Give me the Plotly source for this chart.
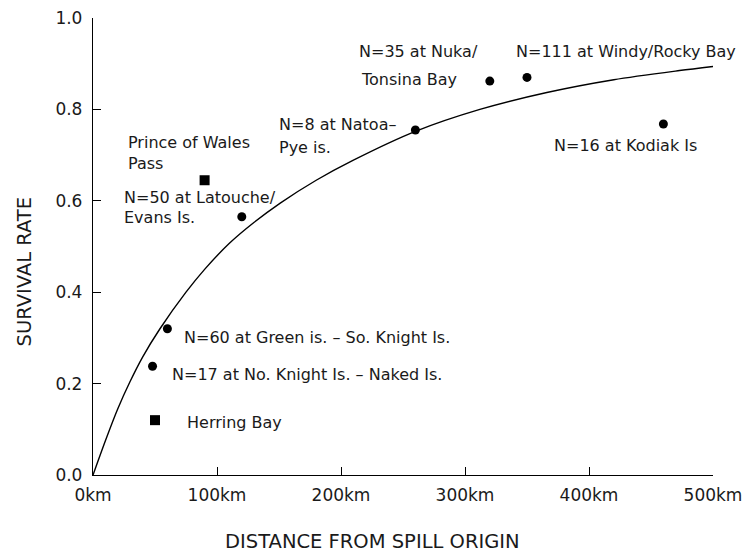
import plotly.graph_objects as go

# Observed sites (distance km, survival rate)
circle_x = [48, 60, 120, 260, 320, 350, 460]
circle_y = [0.238, 0.32, 0.565, 0.755, 0.862, 0.870, 0.768]
square_x = [50, 90]
square_y = [0.12, 0.645]

# Fitted curve
curve_x = [0, 10, 20, 30, 40, 54, 75, 90, 110, 130, 151, 180, 210, 260, 312, 366, 420, 473, 500]
curve_y = [0.0, 0.075, 0.145, 0.205, 0.258, 0.32, 0.40, 0.45, 0.507, 0.553, 0.595, 0.645,
           0.689, 0.752, 0.80, 0.837, 0.865, 0.885, 0.894]

# Labels
label_text = [
    "Prince of Wales", "Pass",
    "N=50 at Latouche/", "Evans Is.",
    "N=8 at Natoa\u2013", "Pye is.",
    "N=35 at Nuka/", "Tonsina Bay",
    "N=111 at Windy/Rocky Bay",
    "N=16 at Kodiak Is",
    "N=60 at Green is. \u2013 So. Knight Is.",
    "N=17 at No. Knight Is. \u2013 Naked Is.",
    "Herring Bay",
]
label_x = [26.6, 26.6, 23.4, 23.4, 148.4, 148.4, 213, 214.5, 339.5, 370, 71.5, 62, 74.2]
label_y = [0.728, 0.681, 0.607, 0.563, 0.767, 0.716, 0.926, 0.865, 0.926, 0.721, 0.301, 0.219, 0.115]

x_ticks = [0, 100, 200, 300, 400, 500]
y_ticks = [0.0, 0.2, 0.4, 0.6, 0.8, 1.0]

x_title = "DISTANCE FROM SPILL ORIGIN"
y_title = "SURVIVAL RATE"

FONT = "DejaVu Sans"
TXT = "#1a1a1a"

fig = go.Figure()
fig.add_trace(go.Scatter(x=curve_x, y=curve_y, mode="lines",
                         line=dict(color="black", width=1.4, shape="spline", smoothing=0.8),
                         hoverinfo="skip", showlegend=False))
fig.add_trace(go.Scatter(x=circle_x, y=circle_y, mode="markers",
                         marker=dict(symbol="circle", size=9, color="black"),
                         showlegend=False))
fig.add_trace(go.Scatter(x=square_x, y=square_y, mode="markers",
                         marker=dict(symbol="square", size=10, color="black"),
                         showlegend=False))

annotations = []
for t, x, y in zip(label_text, label_x, label_y):
    annotations.append(dict(x=x, y=y, xref="x", yref="y", text=t, showarrow=False,
                            xanchor="left", yanchor="middle",
                            font=dict(family=FONT, size=16, color=TXT)))
# axis titles placed as in the reference
annotations.append(dict(x=372, y=541, xref="paper", yref="paper", text=x_title,
                        showarrow=False, xanchor="center", yanchor="middle",
                        font=dict(family=FONT, size=19.5, color=TXT)))
annotations.append(dict(x=23.5, y=272, xref="paper", yref="paper", text=y_title,
                        showarrow=False, xanchor="center", yanchor="middle", textangle=-90,
                        font=dict(family=FONT, size=19.5, color=TXT)))

# convert the two title positions from pixels to paper fractions
L, R, T, B = 93, 31, 18, 77
W, H = 744, 552
pw, ph = W - L - R, H - T - B
for a in annotations[-2:]:
    a["x"] = (a["x"] - L) / pw
    a["y"] = (H - B - a["y"]) / ph

fig.update_layout(
    width=W, height=H,
    margin=dict(l=L, r=R, t=T, b=B, autoexpand=False),
    paper_bgcolor="white", plot_bgcolor="white",
    font=dict(family=FONT, color=TXT),
    annotations=annotations,
    showlegend=False,
)
fig.update_xaxes(range=[0, 500], tickvals=x_ticks, ticktext=[f"{v}km" for v in x_ticks],
                 showline=True, linecolor="black", linewidth=1.3, mirror=False,
                 ticks="inside", ticklen=8, tickwidth=1.3, tickcolor="black",
                 showgrid=False, zeroline=False, automargin=False, ticklabelstandoff=4,
                 tickfont=dict(family=FONT, size=17, color=TXT))
fig.update_yaxes(range=[0, 1.0], tickvals=y_ticks, ticktext=[f"{v:.1f}" for v in y_ticks],
                 showline=True, linecolor="black", linewidth=1.3, mirror=False,
                 ticks="inside", ticklen=8, tickwidth=1.3, tickcolor="black",
                 showgrid=False, zeroline=False, automargin=False, ticklabelstandoff=6,
                 tickfont=dict(family=FONT, size=17, color=TXT))

fig.write_html("out.html")
